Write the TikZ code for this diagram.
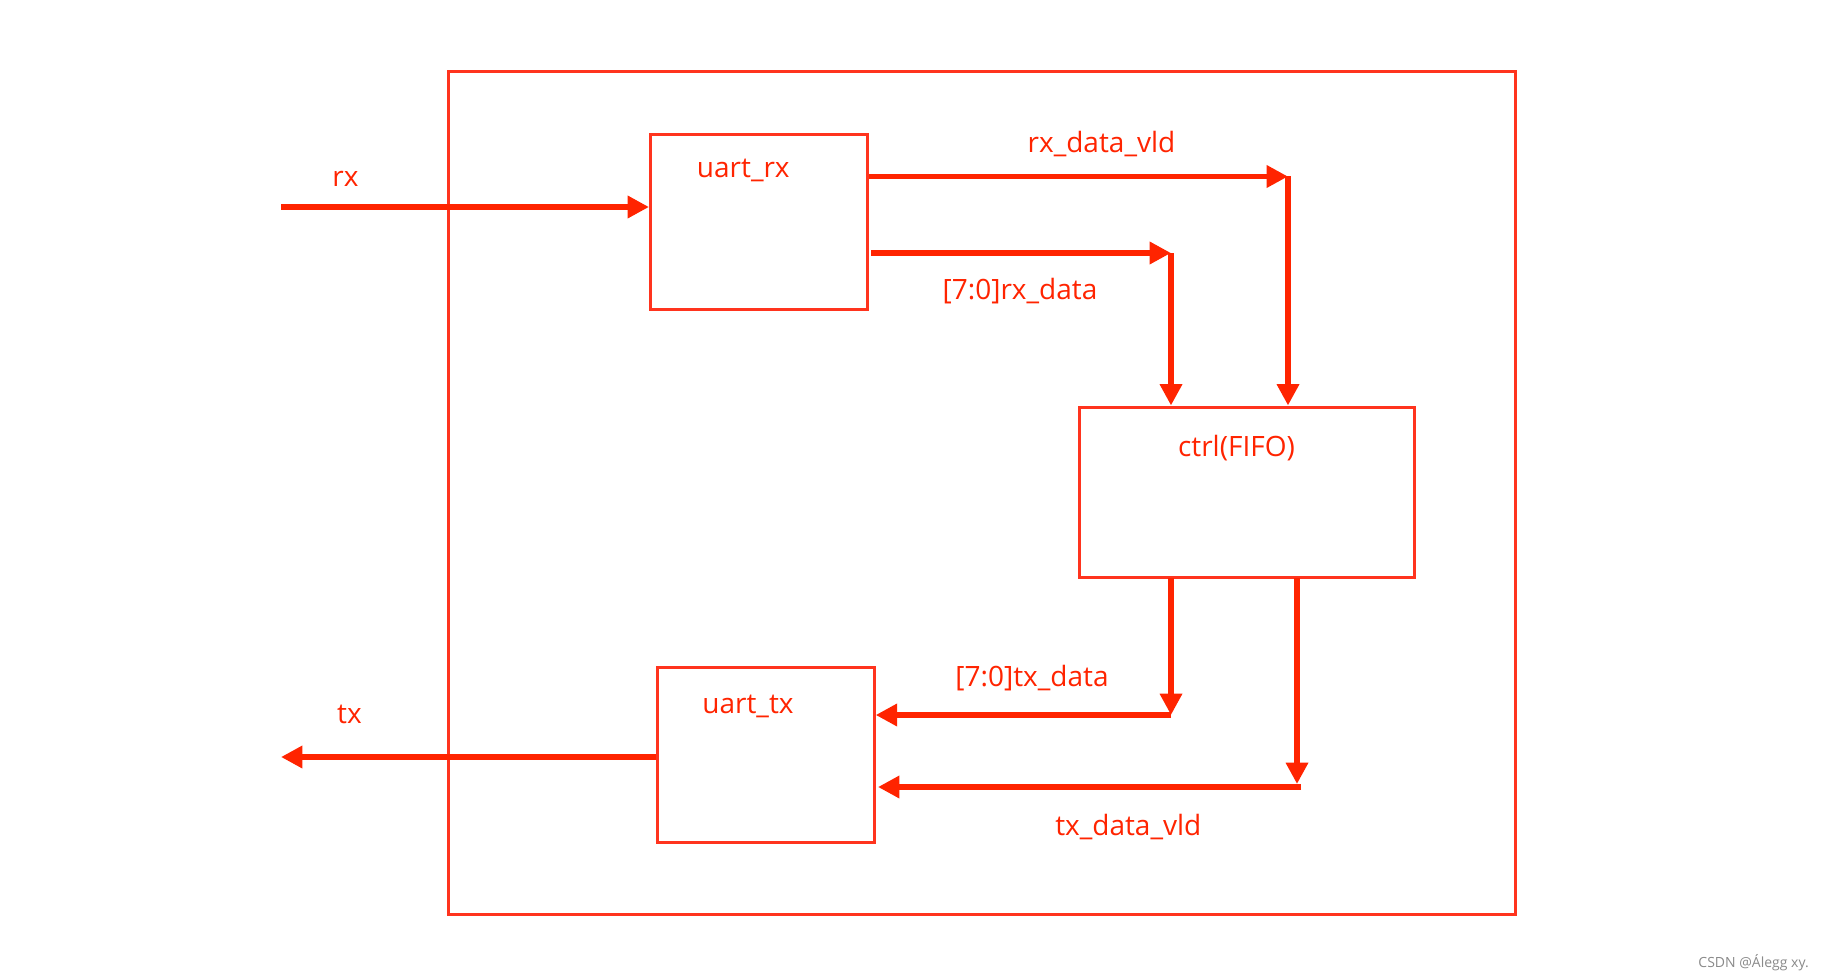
\documentclass[tikz,border=0pt]{standalone}
\usepackage{fontspec}
\setmainfont{Open Sans}
\usetikzlibrary{arrows.meta}
\definecolor{wire}{RGB}{255,36,0}
\definecolor{boxred}{RGB}{255,52,30}
\definecolor{wm}{RGB}{138,138,138}
\tikzset{
  blk/.style={draw=boxred, line width=2.4pt, rectangle, inner sep=0pt, anchor=north west},
  sig/.style={draw=wire, line width=4pt, -{Triangle[length=16pt,width=16pt]}},
  lbl/.style={text=wire, font=\fontsize{21pt}{24pt}\selectfont, anchor=base, inner sep=0pt},
}
\begin{document}
\begin{tikzpicture}[x=0.75pt,y=-0.75pt]
\useasboundingbox (0,0) rectangle (1824,977);
\fill[white] (0,0) rectangle (1824,977);
% blocks
\node[blk, minimum width=1067*0.75pt, minimum height=843*0.75pt] (top) at (446.5,69.8) {};
\node[blk, minimum width=216.5*0.75pt, minimum height=175*0.75pt] (urx) at (649,133) {};
\node[blk, minimum width=335.5*0.75pt, minimum height=170*0.75pt] (ctrl) at (1077.5,405.5) {};
\node[blk, minimum width=216.5*0.75pt, minimum height=175.5*0.75pt] (utx) at (656,665.5) {};
% coordinates
\coordinate (rxin) at (281,207);
\coordinate (vldS) at (869,176.5);
\coordinate (vldC) at (1288,176.5);
\coordinate (datS) at (871,253);
\coordinate (datC) at (1171,253);
\coordinate (tdS) at (1171,578);
\coordinate (tdC) at (1171,715);
\coordinate (tvS) at (1297,578);
\coordinate (tvC) at (1297,784);
\coordinate (tvH) at (1301,787);
\coordinate (tvE) at (878,787);
\coordinate (txS) at (656,757);
\coordinate (txout) at (281,757);
% connectors
\draw[sig] (rxin) -- (rxin -| urx.west);
\draw[sig] (vldS) -- (vldC);
\draw[sig] (vldC) -- (vldC |- ctrl.north);
\draw[sig] (datS) -- (datC);
\draw[sig] (datC) -- (datC |- ctrl.north);
\draw[sig] (tdS) -- (tdC);
\draw[sig] (tdC) -- (tdC -| utx.east);
\draw[sig] (tvS) -- (tvC);
\draw[sig] (tvH) -- (tvE);
\draw[sig] (txS -| utx.west) -- (txout);
% labels
\node[lbl] (lrx) at (345.5,186) {rx};
\node[lbl] (lurx) at (743.3,177.3) {uart\_rx};
\node[lbl] (lvld) at (1101.5,153) {rx\_data\_vld};
\node[lbl] (ldat) at (1020,299) {[7:0]rx\_data};
\node[lbl] (lctrl) at (1236.5,456.5) {ctrl(FIFO)};
\node[lbl] (ltd) at (1032,686.7) {[7:0]tx\_data};
\node[lbl] (lutx) at (748,713.3) {uart\_tx};
\node[lbl] (ltx) at (349.5,723) {tx};
\node[lbl] (ltv) at (1128.3,835) {tx\_data\_vld};
\node[text=wm, font=\fontsize{10.5pt}{12pt}\selectfont, anchor=base east, inner sep=0pt] (wmk) at (1809,967) {CSDN @Álegg xy.};
\end{tikzpicture}
\end{document}
